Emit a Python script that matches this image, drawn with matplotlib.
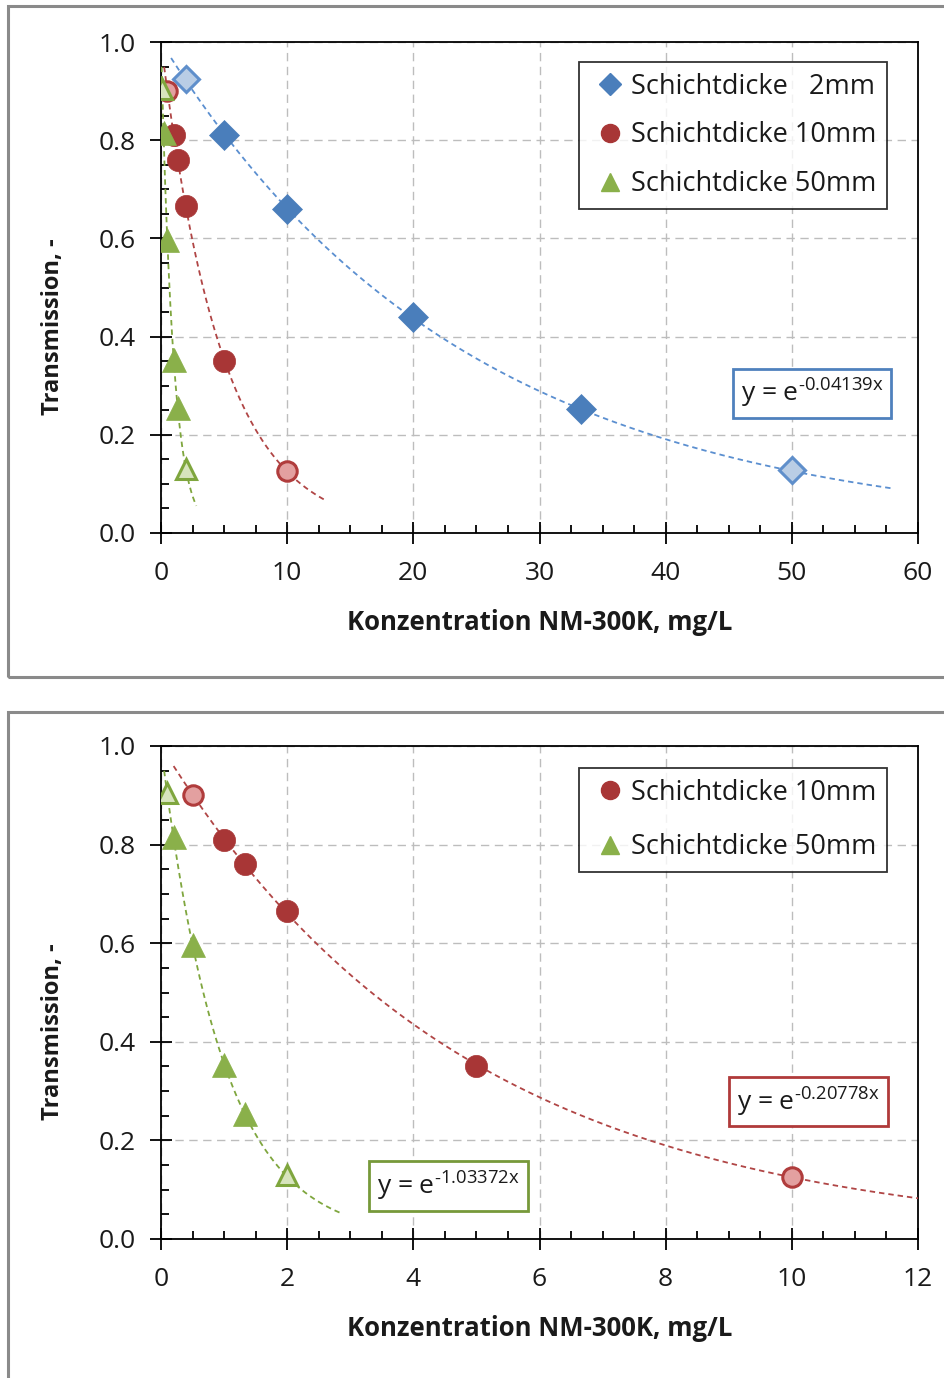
import numpy as np
import matplotlib
matplotlib.use("Agg")
import matplotlib.pyplot as plt
from matplotlib.patches import Rectangle
from matplotlib.lines import Line2D
from matplotlib.ticker import MultipleLocator, FormatStrFormatter

plt.rcParams['font.family'] = ['Open Sans', 'DejaVu Sans']
plt.rcParams['mathtext.fontset'] = 'custom'
plt.rcParams['mathtext.rm'] = 'Open Sans'
plt.rcParams['mathtext.it'] = 'Open Sans'

# Measured transmission per layer thickness (concentration in mg/L)
conc_2mm = [2, 5, 10, 20, 33.3, 50]
trans_2mm = [0.925, 0.81, 0.66, 0.44, 0.253, 0.128]
faded_2mm = [True, False, False, False, False, True]

conc_10mm = [0.5, 1.0, 1.33, 2.0, 5.0, 10.0]
trans_10mm = [0.90, 0.81, 0.76, 0.665, 0.351, 0.126]
faded_10mm = [True, False, False, False, False, True]

conc_50mm = [0.1, 0.2, 0.5, 1.0, 1.33, 2.0]
trans_50mm = [0.905, 0.815, 0.597, 0.352, 0.254, 0.13]
faded_50mm = [True, False, False, False, False, True]

# Exponential fit coefficients  y = exp(k * x)
k_2mm = -0.04139
k_10mm = -0.20778
k_50mm = -1.03372

labels = ['Schichtdicke   2mm', 'Schichtdicke 10mm', 'Schichtdicke 50mm']

BLUE = dict(fill='#4A7EBB', light='#B9CDE5', edge='#5F8FCB', line='#5B8FD0', box='#4F81BD')
RED = dict(fill='#A83636', light='#E3A0A0', edge='#B03C3C', line='#B04545', box='#B03A3A')
GREEN = dict(fill='#8AB04A', light='#D7E4BD', edge='#7FA63E', line='#7FA63E', box='#77993A')

W, H = 944, 1378
fig = plt.figure(figsize=(W / 100, H / 100), dpi=100)


def fpx(x0, y0, x1, y1):
    """Convert pixel box (top-left origin) into figure-fraction rect."""
    return [x0 / W, 1 - y1 / H, (x1 - x0) / W, (y1 - y0) / H]


# Gray panel frames
for (y0, y1) in [(6, 677), (712, 1400)]:
    fig.patches.append(Rectangle((8 / W, 1 - y1 / H), (980 - 8) / W, (y1 - y0) / H,
                                 transform=fig.transFigure, fill=False,
                                 edgecolor='#8A8A8A', linewidth=2.2, clip_on=False))


def scatter_series(ax, xs, ys, faded, marker, col, ms):
    for x, y, f in zip(xs, ys, faded):
        if f:
            ax.plot([x], [y], marker=marker, ms=ms - 2, mfc=col['light'], mec=col['edge'],
                    mew=2.2, ls='none', zorder=4)
        else:
            ax.plot([x], [y], marker=marker, ms=ms, mfc=col['fill'], mec=col['fill'],
                    mew=0.5, ls='none', zorder=4)


def trend(ax, k, x0, x1, col):
    xs = np.linspace(x0, x1, 300)
    ax.plot(xs, np.exp(k * xs), ls=(0, (3, 2.2)), lw=1.3, color=col['line'], zorder=3)


def style_axes(ax, xmax, xmajor, xminor):
    ax.set_xlim(0, xmax)
    ax.set_ylim(0, 1.0)
    ax.xaxis.set_major_locator(MultipleLocator(xmajor))
    ax.xaxis.set_minor_locator(MultipleLocator(xminor))
    ax.yaxis.set_major_locator(MultipleLocator(0.2))
    ax.yaxis.set_minor_locator(MultipleLocator(0.05))
    ax.yaxis.set_major_formatter(FormatStrFormatter('%.1f'))
    ax.xaxis.set_major_formatter(FormatStrFormatter('%d'))
    ax.tick_params(which='major', direction='inout', length=16, width=1.3, labelsize=19,
                   colors='black')
    ax.tick_params(axis='y', which='major', pad=10)
    ax.tick_params(axis='x', which='major', pad=12)
    ax.tick_params(which='minor', direction='in', length=6, width=1.3)
    ax.tick_params(labelcolor='#1A1A1A')
    for s in ax.spines.values():
        s.set_linewidth(1.3)
        s.set_color('black')
    ax.grid(True, which='major', color='#BDBDBD', ls=(0, (6, 4)), lw=1.0, zorder=0)
    ax.set_axisbelow(True)
    ax.set_xlabel('Konzentration NM-300K, mg/L', fontsize=18.5, fontweight='bold', color='#1A1A1A')
    ax.set_ylabel('Transmission, -', fontsize=17, fontweight='bold', color='#1A1A1A')
    ax.xaxis.set_label_coords(0.5, -0.155)
    ax.yaxis.set_label_coords(-0.127, 0.42)


def eq_box(ax, x, y, k, col):
    exponent = '\u2010' + ('%.5f' % abs(k)).rstrip('0') + 'x'
    ax.text(x, y, 'y = e' + r'$^{\mathrm{%s}}$' % exponent,
            transform=ax.transAxes, ha='center', va='center', fontsize=19, color='#1A1A1A',
            bbox=dict(boxstyle='square,pad=0.3', fc='white', ec=col['box'], lw=2.0), zorder=6)


def make_legend(ax, handles, labs, top_px, spacing):
    leg = ax.legend(handles, labs, loc='upper right', bbox_to_anchor=(887 / W, 1 - top_px / H),
                    bbox_transform=fig.transFigure, borderaxespad=0, fontsize=19.5, frameon=True,
                    fancybox=False, edgecolor='black', handlelength=1.5, handletextpad=0.02,
                    labelspacing=spacing, borderpad=0.4, labelcolor='#1A1A1A')
    leg.get_frame().set_linewidth(1.3)
    leg.set_zorder(7)
    return leg


# ---------------- Top panel: all three thicknesses ----------------
ax1 = fig.add_axes(fpx(161, 42, 918, 533))
trend(ax1, k_2mm, 0.8, 58, BLUE)
trend(ax1, k_10mm, 0.25, 13, RED)
trend(ax1, k_50mm, 0.05, 2.8, GREEN)
scatter_series(ax1, conc_2mm, trans_2mm, faded_2mm, 'D', BLUE, 15)
scatter_series(ax1, conc_10mm, trans_10mm, faded_10mm, 'o', RED, 16)
scatter_series(ax1, conc_50mm, trans_50mm, faded_50mm, '^', GREEN, 17)
style_axes(ax1, 60, 10, 2.5)
eq_box(ax1, 0.86, 0.285, k_2mm, BLUE)

handles = [Line2D([], [], marker='D', ls='none', ms=11, mfc=BLUE['fill'], mec=BLUE['fill']),
           Line2D([], [], marker='o', ls='none', ms=13, mfc=RED['fill'], mec=RED['fill']),
           Line2D([], [], marker='^', ls='none', ms=13, mfc=GREEN['fill'], mec=GREEN['fill'])]
make_legend(ax1, handles, labels, 62, 0.76)

# ---------------- Bottom panel: 10 mm and 50 mm ----------------
ax2 = fig.add_axes(fpx(161, 746, 918, 1239))
trend(ax2, k_10mm, 0.2, 12, RED)
trend(ax2, k_50mm, 0.05, 2.85, GREEN)
scatter_series(ax2, conc_10mm, trans_10mm, faded_10mm, 'o', RED, 16)
scatter_series(ax2, conc_50mm, trans_50mm, faded_50mm, '^', GREEN, 17)
style_axes(ax2, 12, 2, 0.5)
eq_box(ax2, 0.855, 0.278, k_10mm, RED)
eq_box(ax2, 0.38, 0.1075, k_50mm, GREEN)
make_legend(ax2, handles[1:], labels[1:], 768, 0.98)

fig.savefig('out.png', dpi=100, facecolor='white')
